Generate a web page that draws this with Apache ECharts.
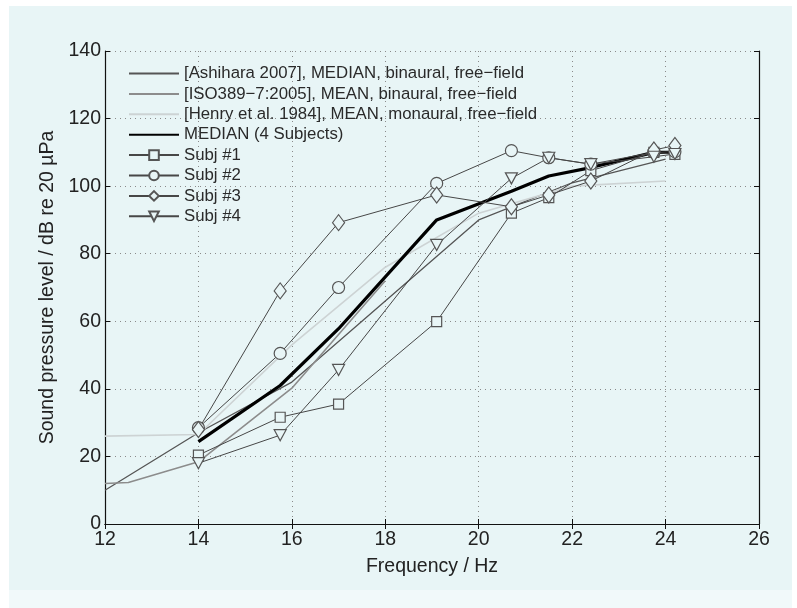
<!DOCTYPE html>
<html>
<head>
<meta charset="utf-8">
<script src="https://cdn.jsdelivr.net/npm/echarts@6/dist/echarts.min.js"></script>
<style>
  html, body { margin: 0; padding: 0; background: #ffffff; }
  #main { width: 797px; height: 608px; }
</style>
</head>
<body>
<div id="main"></div>
<script>
// reference threshold curves [freq, level]
var ashihara = [[12, 10], [14, 27], [16, 42], [18, 66], [20, 90], [22, 101], [24, 108]];
var iso389 = [[12, 12], [12.5, 12.3], [14, 18.4], [16, 40.2], [18, 72]];
var henry = [[12, 26], [14, 26.5], [16, 53], [18, 76], [20, 92], [22, 100], [24, 101.5]];

// measurement frequencies and subject thresholds
var freqs = [14, 15.75, 17, 19.1, 20.7, 21.5, 22.4, 23.75, 24.2];
var subj1 = [20.4, 31.6, 35.5, 59.9, 92.0, 96.6, 104.6, 110.0, 109.4];
var subj2 = [28.5, 50.5, 70.0, 100.8, 110.5, 108.4, 106.5, 110.0, 110.2];
var subj3 = [28.0, 69.0, 89.2, 97.4, 93.9, 97.4, 101.5, 110.7, 112.0];
var subj4 = [18.0, 26.3, 45.6, 82.6, 102.3, 108.4, 106.5, 108.7, 109.5];
var median = [24.4, 41.0, 57.8, 90.0, 98.5, 103.0, 105.5, 110.0, 110.0];

var legendNames = [
  "[Ashihara 2007], MEDIAN, binaural, free\u2212field",
  "[ISO389\u22127:2005], MEAN, binaural, free\u2212field",
  "[Henry et al. 1984], MEAN, monaural, free\u2212field",
  "MEDIAN (4 Subjects)",
  "Subj #1",
  "Subj #2",
  "Subj #3",
  "Subj #4",
];

var bg = "#e8f5f6";

function pairs(vals) {
  return freqs.map(function (f, i) {
    return [f, vals[i]];
  });
}

function subjSeries(name, vals, symbol, size, rotate) {
  return {
    name: name,
    type: "line",
    data: pairs(vals),
    symbol: symbol,
    symbolSize: size,
    symbolRotate: rotate || 0,
    showAllSymbol: true,
    lineStyle: { color: "#474747", width: 1 },
    itemStyle: { color: bg, borderColor: "#555555", borderWidth: 1.2 },
    z: 5,
  };
}

function plainLine(name, data, color, width, z) {
  return {
    name: name,
    type: "line",
    data: data,
    symbol: "none",
    lineStyle: { color: color, width: width },
    itemStyle: { color: color },
    z: z,
  };
}

var chartDom = document.getElementById("main");
var myChart = echarts.init(chartDom);
var option;

var tickFont = { fontFamily: "Liberation Sans", fontSize: 19.5, color: "#222222" };

option = {
  animation: false,
  backgroundColor: "#ffffff",
  graphic: [
    { type: "rect", shape: { x: 9, y: 6, width: 783, height: 584 }, style: { fill: bg }, z: -10 },
    { type: "rect", shape: { x: 9, y: 590, width: 783, height: 18 }, style: { fill: "#f1f9fa" }, z: -10 },
  ],
  grid: { left: 105, top: 51, right: 38, bottom: 84 },
  legend: {
    orient: "vertical",
    left: 123,
    top: 59,
    itemWidth: 50,
    itemHeight: 12,
    itemGap: 1.4,
    textStyle: { fontFamily: "Liberation Sans", fontSize: 16.8, lineHeight: 19, color: "#2a2a2a" },
    data: legendNames.map(function (n, i) {
      if (i < 4) {
        return { name: n, itemStyle: { opacity: 0 } };
      }
      return { name: n };
    }),
  },
  xAxis: [
    {
      type: "value",
      min: 12,
      max: 26,
      interval: 2,
      name: "Frequency / Hz",
      nameLocation: "middle",
      nameGap: 33,
      nameTextStyle: tickFont,
      axisLine: { lineStyle: { color: "#111111", width: 1.2 } },
      axisTick: { inside: true, length: 5, lineStyle: { color: "#111111" } },
      axisLabel: Object.assign({ margin: 6 }, tickFont),
      splitLine: { show: true, lineStyle: { color: "#8a8a8a", type: [1, 4], width: 1 } },
    },
    {
      type: "value",
      min: 12,
      max: 26,
      interval: 2,
      position: "top",
      axisLine: { show: true, lineStyle: { color: "#111111", width: 1.2 } },
      axisTick: { inside: true, length: 5, lineStyle: { color: "#111111" } },
      axisLabel: { show: false },
      splitLine: { show: false },
    },
  ],
  yAxis: [
    {
      type: "value",
      min: 0,
      max: 140,
      interval: 20,
      name: "Sound pressure level / dB re 20 \u00b5Pa",
      nameLocation: "middle",
      nameGap: 47,
      nameTextStyle: tickFont,
      axisLine: { show: true, lineStyle: { color: "#111111", width: 1.2 } },
      axisTick: { show: true, inside: true, length: 5, lineStyle: { color: "#111111" } },
      axisLabel: Object.assign({ margin: 4 }, tickFont),
      splitLine: { show: true, lineStyle: { color: "#8a8a8a", type: [1, 4], width: 1 } },
    },
    {
      type: "value",
      min: 0,
      max: 140,
      interval: 20,
      position: "right",
      axisLine: { show: true, lineStyle: { color: "#111111", width: 1.2 } },
      axisTick: { show: true, inside: true, length: 5, lineStyle: { color: "#111111" } },
      axisLabel: { show: false },
      splitLine: { show: false },
    },
  ],
  series: [
    plainLine(legendNames[0], ashihara, "#555555", 1.3, 2),
    plainLine(legendNames[1], iso389, "#8c8c8c", 1.6, 2),
    plainLine(legendNames[2], henry, "#cdd3d4", 1.6, 2),
    plainLine(legendNames[3], pairs(median), "#000000", 3.2, 4),
    subjSeries("Subj #1", subj1, "rect", 10),
    subjSeries("Subj #2", subj2, "circle", 12),
    subjSeries("Subj #3", subj3, "diamond", [12, 16]),
    subjSeries("Subj #4", subj4, "triangle", [12, 11], 180),
  ],
};

option && myChart.setOption(option);
</script>
</body>
</html>
